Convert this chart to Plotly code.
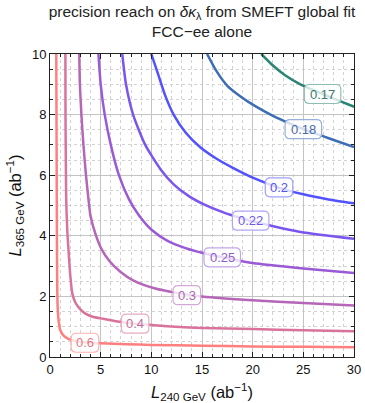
import plotly.graph_objects as go

# contour levels of the precision on delta kappa_lambda
LEVELS = ["0.6", "0.4", "0.3", "0.25", "0.22", "0.2", "0.18", "0.17"]
LINE_COLORS = ["#ff7f7f", "#d9739c", "#b566b8", "#9a5ad6", "#7a55ee",
               "#5252ff", "#3d6db5", "#2b8575"]
TEXT_COLORS = ["#e07a86", "#c2709a", "#a868b0", "#8d5fcc", "#6f5ae6",
               "#5555f0", "#4a6aa8", "#3a7a70"]
BORDER_COLORS = ["#ffb3b3", "#e8aac4", "#d4a8d6", "#c2a6ec", "#b0a6f6",
                 "#a0a0ff", "#98b0d8", "#8fbfb4"]

# iso-precision curves: L240 (ab^-1) vs L365 (ab^-1)
L240_060 = [0.62, 0.64, 0.66, 0.68, 0.71, 0.75, 0.85, 1.0, 1.3, 1.8, 2.5, 3.5,
            5, 7.5, 10, 15, 20, 25, 30]
L365_060 = [10, 8, 6, 4, 2.5, 1.7, 1.2, 0.9, 0.72, 0.6, 0.53, 0.48,
            0.45, 0.42, 0.40, 0.37, 0.35, 0.335, 0.32]

L240_040 = [1.52, 1.53, 1.56, 1.6, 1.7, 1.85, 2.0, 2.2, 2.5, 3.0, 3.5, 4.2,
            5.25, 6.5, 8.4, 10.3, 12.8, 15, 20, 25, 30]
L365_040 = [10, 8, 6.5, 5.2, 4.2, 3.4, 2.7, 2.1, 1.8, 1.57, 1.43, 1.33,
            1.26, 1.18, 1.10, 1.05, 0.99, 0.96, 0.92, 0.88, 0.85]

L240_030 = [2.89, 2.95, 3.1, 3.3, 3.55, 3.8, 4.0, 4.5, 5.1, 5.9, 7.0, 8.2,
            10.3, 12.8, 15, 20, 25, 30]
L365_030 = [10, 9, 8, 7, 6, 5.2, 4.65, 4.05, 3.55, 3.15, 2.8, 2.53,
            2.27, 2.1, 2.0, 1.87, 1.78, 1.70]

L240_025 = [4.78, 5.0, 5.4, 6.0, 6.8, 7.8, 8.75, 10.05, 11.6, 13.3, 15.1, 17,
            20, 25, 30]
L365_025 = [10, 9, 8, 7, 6, 5.2, 4.69, 4.19, 3.83, 3.6, 3.43, 3.29,
            3.1, 2.92, 2.77]

L240_022 = [7.13, 7.5, 8.2, 9.4, 10.9, 12.2, 13.7, 15.35, 17.04, 18.9, 20.7,
            23, 25, 30]
L365_022 = [10, 9, 8, 7, 6.2, 5.7, 5.31, 5.01, 4.78, 4.58, 4.42,
            4.24, 4.11, 3.9]

L240_020 = [10.0, 10.7, 11.4, 12.2, 13.4, 14.8, 16.4, 18, 20, 22.5, 25, 27.5, 30]
L365_020 = [10, 9.3, 8.6, 8.0, 7.4, 6.93, 6.55, 6.25, 5.92, 5.6, 5.37, 5.2, 5.07]

L240_018 = [15.5, 16.4, 17.5, 18.8, 20.3, 22, 24, 25, 27.5, 30]
L365_018 = [10, 9.45, 8.95, 8.6, 8.27, 7.96, 7.66, 7.52, 7.22, 6.93]

L240_017 = [20.85, 22, 23.2, 24.8, 26.9, 28.5, 30]
L365_017 = [10, 9.62, 9.3, 8.98, 8.68, 8.46, 8.26]

CURVES_X = [L240_060, L240_040, L240_030, L240_025, L240_022, L240_020, L240_018, L240_017]
CURVES_Y = [L365_060, L365_040, L365_030, L365_025, L365_022, L365_020, L365_018, L365_017]

# where each contour label sits on its curve
LABEL_X = [3.45, 8.4, 13.5, 17.0, 19.8, 22.6, 25.0, 26.9]
LABEL_Y = [0.47, 1.10, 2.04, 3.29, 4.5, 5.60, 7.52, 8.68]

FONT = "Liberation Sans, Arial, sans-serif"

fig = go.Figure()
for xs, ys, col, lev in zip(CURVES_X, CURVES_Y, LINE_COLORS, LEVELS):
    fig.add_trace(go.Scatter(x=xs, y=ys, mode="lines", name=lev,
                             line=dict(color=col, width=2.5, shape="spline", smoothing=0.6),
                             hoverinfo="skip"))


def rounded_box(w, h, r):
    x0, x1, y0, y1 = -w / 2, w / 2, -h / 2, h / 2
    return (f"M {x0 + r},{y0} L {x1 - r},{y0} Q {x1},{y0} {x1},{y0 + r} "
            f"L {x1},{y1 - r} Q {x1},{y1} {x1 - r},{y1} "
            f"L {x0 + r},{y1} Q {x0},{y1} {x0},{y1 - r} "
            f"L {x0},{y0 + r} Q {x0},{y0} {x0 + r},{y0} Z")


shapes = []
annotations = []
for lev, lx, ly, tc, bc in zip(LEVELS, LABEL_X, LABEL_Y, TEXT_COLORS, BORDER_COLORS):
    w = 9.0 * len(lev) + 0.5
    shapes.append(dict(type="path", xref="x", yref="y",
                       xsizemode="pixel", ysizemode="pixel",
                       xanchor=lx, yanchor=ly, path=rounded_box(w, 19, 5),
                       fillcolor="rgba(255,255,255,0.78)",
                       line=dict(color=bc, width=1.2), layer="above"))
    annotations.append(dict(x=lx, y=ly, xref="x", yref="y", text=lev,
                            showarrow=False, font=dict(size=13, color=tc, family=FONT)))

axis_common = dict(
    showline=True, linecolor="#222", linewidth=1, mirror="allticks",
    ticks="inside", ticklen=5, tickcolor="#222", tickwidth=1,
    showgrid=True, gridcolor="#c4c4c4", gridwidth=1, automargin=False,
    zeroline=False, tickfont=dict(size=13, color="#111", family=FONT),
)

fig.update_layout(
    width=365, height=403,
    margin=dict(l=50, r=11, t=53.5, b=46.3),
    paper_bgcolor="white", plot_bgcolor="white",
    showlegend=False,
    font=dict(family=FONT, color="#111"),
    title=dict(text="precision reach on <i>δκ</i><sub>λ</sub> from SMEFT global fit<br>FCC−ee alone",
               x=0.5, xref="paper", xanchor="center",
               y=0.958, yref="container", yanchor="top",
               font=dict(size=15.5, color="#222", family=FONT)),
    xaxis=dict(range=[0, 30], dtick=5, tick0=0,
               minor=dict(dtick=1, ticklen=3, ticks="inside", tickcolor="#222",
                          showgrid=True, gridcolor="#d2d2d2", griddash="dot", gridwidth=1),
               title=dict(text="<i>L</i><sub>240 GeV</sub> (ab<sup>−1</sup>)",
                          font=dict(size=16.5, color="#111", family=FONT), standoff=10),
               **axis_common),
    yaxis=dict(range=[0, 10], dtick=2, tick0=0,
               minor=dict(dtick=0.5, ticklen=3, ticks="inside", tickcolor="#222",
                          showgrid=True, gridcolor="#d2d2d2", griddash="dot", gridwidth=1),
               title=dict(text="<i>L</i><sub>365 GeV</sub> (ab<sup>−1</sup>)",
                          font=dict(size=16.5, color="#111", family=FONT), standoff=6),
               **axis_common),
    shapes=shapes,
    annotations=annotations,
)

fig.write_html("out.html")
